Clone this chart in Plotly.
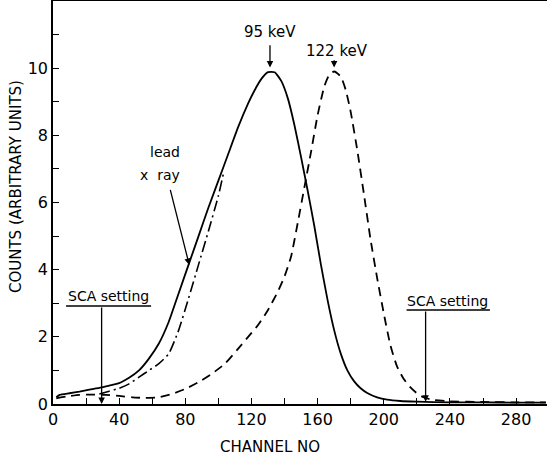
import plotly.graph_objects as go

# 95 keV spectrum (solid)
x_95 = [2, 4, 10, 16, 22, 28, 34, 40, 46, 52, 58, 64, 70, 76, 82, 88, 94, 100, 106,
        112, 118, 122, 126, 130, 134, 138, 142, 146, 150, 154, 158, 162, 166, 170,
        174, 178, 182, 186, 190, 196, 202, 210, 220, 240, 260, 280, 298]
y_95 = [0.2, 0.27, 0.32, 0.37, 0.43, 0.48, 0.55, 0.62, 0.78, 1.0, 1.35, 1.8, 2.45,
        3.3, 4.15, 5.0, 5.85, 6.65, 7.45, 8.25, 8.95, 9.35, 9.68, 9.88, 9.88, 9.62,
        9.1, 8.3, 7.35, 6.35, 5.3, 4.15, 3.1, 2.2, 1.5, 1.0, 0.68, 0.47, 0.33, 0.2,
        0.13, 0.09, 0.07, 0.05, 0.05, 0.04, 0.04]

# 122 keV spectrum (dashed)
x_122 = [2, 8, 16, 24, 32, 40, 48, 56, 64, 72, 80, 88, 96, 104, 112, 118, 124, 130,
         136, 140, 144, 148, 152, 156, 160, 164, 167, 170, 174, 177, 180, 184, 188,
         192, 196, 200, 204, 208, 212, 216, 220, 224, 230, 240, 260, 280, 298]
y_122 = [0.17, 0.22, 0.27, 0.28, 0.27, 0.24, 0.2, 0.18, 0.2, 0.3, 0.45, 0.65, 0.9,
         1.2, 1.65, 2.0, 2.35, 2.8, 3.35, 3.8, 4.4, 5.4, 6.45, 7.5, 8.6, 9.45, 9.8,
         9.9, 9.75, 9.35, 8.7, 7.55, 6.25, 4.9, 3.75, 2.7, 1.75, 1.12, 0.75, 0.5,
         0.32, 0.2, 0.12, 0.08, 0.06, 0.05, 0.05]

# lead x-ray component (dash-dot)
x_lead = [28, 34, 40, 46, 52, 58, 64, 70, 76, 82, 88, 94, 100, 103]
y_lead = [0.3, 0.38, 0.47, 0.6, 0.8, 1.0, 1.2, 1.5, 2.2, 3.15, 4.15, 5.15, 6.2, 6.85]

x_ticks = [0, 40, 80, 120, 160, 200, 240, 280]
y_ticks = [0, 2, 4, 6, 8, 10]

FONT = "DejaVu Sans"

fig = go.Figure()
fig.add_trace(go.Scatter(x=x_95, y=y_95, mode="lines", line=dict(color="black", width=1.8, shape="spline", smoothing=0.5)))
fig.add_trace(go.Scatter(x=x_122, y=y_122, mode="lines", line=dict(color="black", width=1.8, dash="9px,6px", shape="spline", smoothing=0.5)))
fig.add_trace(go.Scatter(x=x_lead, y=y_lead, mode="lines", line=dict(color="black", width=1.6, dash="11px,4px,2px,4px", shape="spline", smoothing=0.5)))

axis_common = dict(showgrid=False, zeroline=False, showline=True, linecolor="black", linewidth=1.5,
                   ticks="inside", ticklen=6, tickwidth=1.3, tickcolor="black",
                   tickfont=dict(family=FONT, size=16, color="black"))

fig.update_xaxes(range=[0, 298.7], tickvals=x_ticks, mirror=True,
                 minor=dict(dtick=20, tick0=0, ticks="inside", ticklen=6, tickwidth=1.3, tickcolor="black"),
                 **axis_common)
fig.update_yaxes(range=[0, 12], tickvals=y_ticks,
                 minor=dict(dtick=1, tick0=0, ticks="inside", ticklen=6, tickwidth=1.3, tickcolor="black"),
                 **axis_common)

ann = []
# axis titles
ann.append(dict(text="CHANNEL NO", xref="x", yref="paper", x=131, y=0, yshift=-43,
                showarrow=False, xanchor="center", yanchor="middle", font=dict(family=FONT, size=15)))
ann.append(dict(text="COUNTS (ARBITRARY UNITS)", xref="paper", yref="y", x=0, y=6.46, xshift=-37,
                showarrow=False, textangle=-90, xanchor="center", yanchor="middle", font=dict(family=FONT, size=15)))
# peak labels
ann.append(dict(text="95 keV", x=131.2, y=11.07, showarrow=False, font=dict(family=FONT, size=15)))
ann.append(dict(text="", x=131.2, y=10.02, ax=131.2, ay=10.73, axref="x", ayref="y",
                showarrow=True, arrowhead=2, arrowsize=1, arrowwidth=1.3, arrowcolor="black"))
ann.append(dict(text="122 keV", x=171.5, y=10.5, showarrow=False, font=dict(family=FONT, size=15)))
ann.append(dict(text="", x=170, y=10.02, ax=170, ay=10.28, axref="x", ayref="y",
                showarrow=True, arrowhead=2, arrowsize=1, arrowwidth=1.3, arrowcolor="black"))
# lead x ray
ann.append(dict(text="lead", x=67.7, y=7.5, showarrow=False, font=dict(family=FONT, size=14)))
ann.append(dict(text="x  ray", x=64.5, y=6.82, showarrow=False, font=dict(family=FONT, size=14)))
ann.append(dict(text="", x=82.4, y=4.14, ax=70.7, ay=6.42, axref="x", ayref="y",
                showarrow=True, arrowhead=2, arrowsize=1, arrowwidth=1.3, arrowcolor="black"))
# SCA settings
ann.append(dict(text="SCA setting", x=33.5, y=3.22, showarrow=False, font=dict(family=FONT, size=14)))
ann.append(dict(text="", x=29.4, y=0.0, ax=29.4, ay=2.92, axref="x", ayref="y",
                showarrow=True, arrowhead=2, arrowsize=1, arrowwidth=1.3, arrowcolor="black"))
ann.append(dict(text="SCA setting", x=238.8, y=3.08, showarrow=False, font=dict(family=FONT, size=14)))
ann.append(dict(text="", x=225.3, y=0.07, ax=225.3, ay=2.8, axref="x", ayref="y",
                showarrow=True, arrowhead=2, arrowsize=1, arrowwidth=1.3, arrowcolor="black"))

shapes = [
    dict(type="line", x0=7.9, x1=59.3, y0=2.92, y1=2.92, line=dict(color="black", width=1.5)),
    dict(type="line", x0=213.8, x1=264.2, y0=2.8, y1=2.8, line=dict(color="black", width=1.5)),
]

fig.update_layout(width=547, height=459, margin=dict(l=53, r=0, t=1, b=55),
                  paper_bgcolor="white", plot_bgcolor="white", showlegend=False,
                  annotations=ann, shapes=shapes, font=dict(family=FONT, color="black"))

fig.write_html("out.html")
